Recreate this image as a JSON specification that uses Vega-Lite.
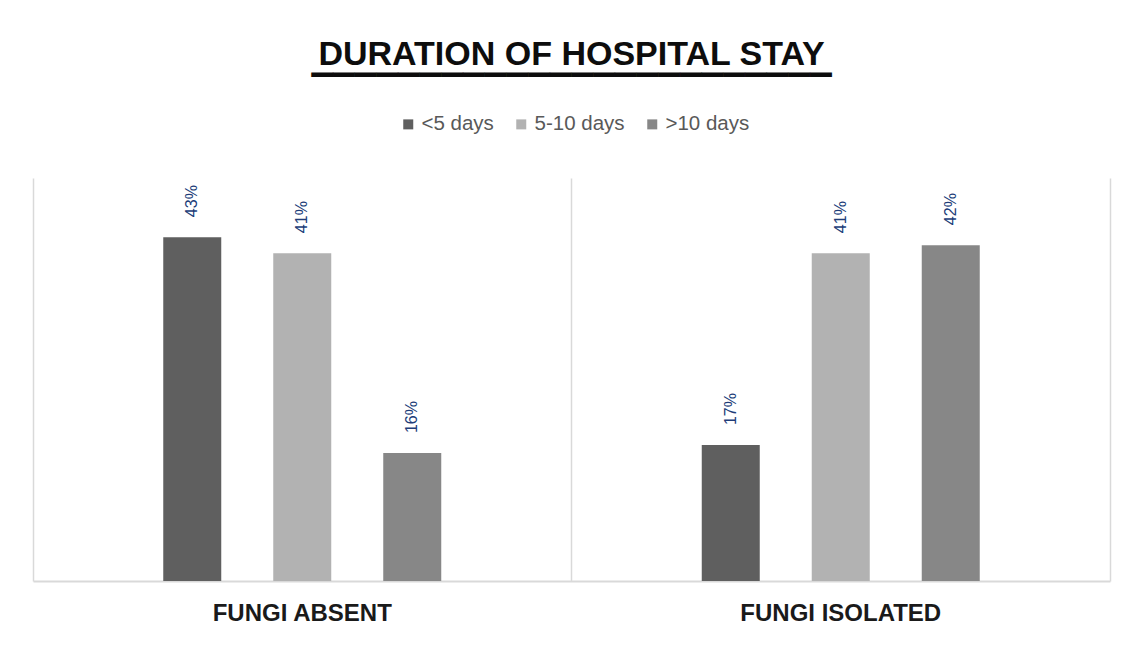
{
  "$schema": "https://vega.github.io/schema/vega-lite/v6.json",
  "width": 1077,
  "height": 403,
  "autosize": {"type": "none"},
  "padding": {"left": 33, "top": 178, "right": 20, "bottom": 65},
  "background": "white",
  "title": {
    "text": "DURATION OF HOSPITAL STAY",
    "subtitle": "▔▔▔▔▔▔▔▔▔▔▔▔▔▔▔▔▔▔▔▔▔▔▔▔",
    "anchor": "middle",
    "frame": "group",
    "font": "Liberation Sans",
    "fontSize": 34,
    "fontWeight": "bold",
    "color": "#0d0d0d",
    "subtitleFont": "DejaVu Sans",
    "subtitleFontSize": 28.2,
    "subtitleColor": "#0d0d0d",
    "subtitlePadding": 5,
    "offset": 10
  },
  "data": {
    "values": [
      {"group": "FUNGI ABSENT", "stay": "<5 days", "share": 0.43},
      {"group": "FUNGI ABSENT", "stay": "5-10 days", "share": 0.41},
      {"group": "FUNGI ABSENT", "stay": ">10 days", "share": 0.16},
      {"group": "FUNGI ISOLATED", "stay": "<5 days", "share": 0.17},
      {"group": "FUNGI ISOLATED", "stay": "5-10 days", "share": 0.41},
      {"group": "FUNGI ISOLATED", "stay": ">10 days", "share": 0.42}
    ]
  },
  "encoding": {
    "x": {
      "field": "group",
      "type": "nominal",
      "sort": ["FUNGI ABSENT", "FUNGI ISOLATED"],
      "scale": {"paddingInner": 0, "paddingOuter": 0},
      "axis": {
        "title": null,
        "labelAngle": 0,
        "labelLimit": 0,
        "labelFont": "Liberation Sans",
        "labelFontWeight": "bold",
        "labelFontSize": 24,
        "labelColor": "#1a1a1a",
        "labelPadding": 20,
        "ticks": false,
        "domain": true,
        "domainColor": "#d9d9d9",
        "domainWidth": 2,
        "grid": true,
        "bandPosition": 0,
        "gridColor": "#d9d9d9",
        "gridWidth": 1.5
      }
    },
    "xOffset": {
      "field": "stay",
      "type": "nominal",
      "sort": ["<5 days", "5-10 days", ">10 days"],
      "scale": {"range": [130.25, 408.25], "paddingInner": 0.4727, "paddingOuter": 0}
    },
    "y": {
      "field": "share",
      "type": "quantitative",
      "scale": {"domain": [0, 0.504], "nice": false},
      "axis": {
        "orient": "right",
        "title": null,
        "labels": false,
        "ticks": false,
        "grid": false,
        "domain": true,
        "domainColor": "#d9d9d9",
        "domainWidth": 1.5
      }
    }
  },
  "layer": [
    {
      "mark": {"type": "bar"},
      "encoding": {
        "color": {
          "field": "stay",
          "type": "nominal",
          "scale": {
            "domain": ["<5 days", "5-10 days", ">10 days"],
            "range": ["#5f5f5f", "#b2b2b2", "#878787"]
          },
          "legend": {
            "title": null,
            "orient": "none",
            "direction": "horizontal",
            "legendX": 365,
            "legendY": -64,
            "symbolType": "square",
            "symbolSize": 100,
            "symbolStrokeWidth": 0,
            "labelFont": "Liberation Sans",
            "labelFontSize": 20.5,
            "labelColor": "#595959",
            "labelOffset": 3,
            "columnPadding": 17
          }
        }
      }
    },
    {
      "mark": {
        "type": "text",
        "angle": 270,
        "align": "left",
        "baseline": "middle",
        "dx": 20,
        "font": "Liberation Sans",
        "fontSize": 16,
        "color": "#203c78"
      },
      "encoding": {
        "text": {"field": "share", "type": "quantitative", "format": ".0%"}
      }
    }
  ],
  "config": {
    "view": {"stroke": null}
  }
}
